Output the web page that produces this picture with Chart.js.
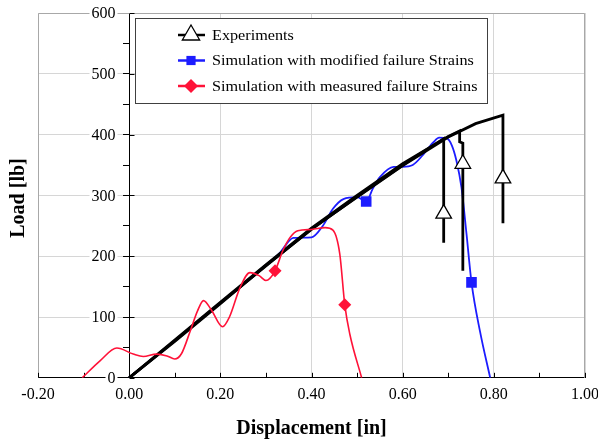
<!DOCTYPE html>
<html>
<head>
<meta charset="utf-8">
<title>Load vs displacement</title>
<script src="https://cdn.jsdelivr.net/npm/chart.js@4.4.1/dist/chart.umd.min.js"></script>
<style>
  html, body { margin: 0; padding: 0; background: #fff; }
  #wrap { width: 598px; height: 441px; }
</style>
</head>
<body>
<div id="wrap"><canvas id="loadChart" width="598" height="441"></canvas></div>
<script>
// EXPERIMENTS (three specimens, marker = arrow triangle on the failure drop)
var exp1X = [0, 0.10, 0.20, 0.30, 0.40, 0.50, 0.60, 0.69, 0.69, 0.69];
var exp1Y = [0, 60, 122, 185, 244, 298, 350, 393, 270, 222];
var exp1Marks = [8];

var exp2X = [0, 0.10, 0.20, 0.30, 0.40, 0.50, 0.60, 0.70, 0.725, 0.725, 0.732, 0.732, 0.732];
var exp2Y = [0, 62, 124, 186, 246, 300, 352, 397, 406, 388, 386, 352, 176];
var exp2Marks = [11];

var exp3X = [0, 0.10, 0.20, 0.30, 0.40, 0.50, 0.60, 0.70, 0.76, 0.82, 0.82, 0.82];
var exp3Y = [0, 61, 123, 184, 245, 297, 349, 396, 418, 432, 328, 254];
var exp3Marks = [10];

// SIMULATION - modified failure strains
var modX = [0, 0.10, 0.20, 0.30, 0.33, 0.36, 0.40, 0.425, 0.447, 0.47, 0.50, 0.52, 0.535, 0.55, 0.58, 0.60, 0.622, 0.645, 0.667, 0.68, 0.696, 0.708, 0.718, 0.729, 0.74, 0.751, 0.77, 0.792];
var modY = [0, 61, 123, 185, 205, 230, 231, 250, 278, 294, 297, 290, 312, 330, 347, 347, 350, 367, 387, 395, 394, 382, 357, 313, 237, 157, 75, 0];
var modMarks = [11, 25];

// SIMULATION - measured failure strains
var measX = [-0.103, -0.064, -0.027, 0.009, 0.031, 0.06, 0.083, 0.10, 0.115, 0.134, 0.15, 0.163, 0.18, 0.205, 0.22, 0.243, 0.265, 0.285, 0.30, 0.32, 0.337, 0.353, 0.37, 0.40, 0.43, 0.447, 0.462, 0.473, 0.484, 0.51];
var measY = [0, 28, 49, 39, 35, 39, 36, 31, 40, 77, 110, 127, 112, 84, 100, 148, 173, 168, 160, 176, 209, 231, 242, 244, 247, 243, 204, 120, 72, 0];
var measMarks = [19, 27];

function pts(xs, ys) {
    return xs.map(function (x, i) { return { x: x, y: ys[i] }; });
}
function markAt(idx, r) {
    return function (c) { return idx.indexOf(c.dataIndex) >= 0 ? r : 0; };
}
function expSet(xs, ys, marks) {
    return {
        label: 'Experiments',
        data: pts(xs, ys),
        showLine: true,
        borderColor: '#000',
        borderWidth: 2.8,
        pointStyle: 'triangle',
        pointRadius: markAt(marks, 9),
        pointHoverRadius: markAt(marks, 9),
        pointBorderWidth: 1.3,
        pointBorderColor: '#000',
        pointBackgroundColor: '#fff',
        legendRadius: 10,
        tension: 0,
        order: 1
    };
}

Chart.defaults.font.family = '"Liberation Serif", "Times New Roman", serif';
Chart.defaults.color = '#000';

// frame, small ticks, y labels + title and the boxed legend
var decor = {
    id: 'decor',
    beforeDatasetsDraw: function (chart) {
        var a = chart.chartArea, ctx = chart.ctx, xs = chart.scales.x, ys = chart.scales.y;
        ctx.save();
        ctx.strokeStyle = '#a8a8a8';
        ctx.lineWidth = 1;
        ctx.beginPath();
        ctx.moveTo(a.left + 0.5, a.bottom);
        ctx.lineTo(a.left + 0.5, a.top + 0.5);
        ctx.lineTo(a.right - 0.5, a.top + 0.5);
        ctx.lineTo(a.right - 0.5, a.bottom);
        ctx.stroke();

        ctx.strokeStyle = '#000';
        ctx.beginPath();
        xs.ticks.forEach(function (t) {
            var px = Math.round(xs.getPixelForValue(t.value)) + 0.5;
            ctx.moveTo(px, a.bottom);
            ctx.lineTo(px, a.bottom - 5);
        });
        var x0 = Math.round(xs.getPixelForValue(0)) + 0.5;
        ys.ticks.forEach(function (t) {
            if (t.value % 100 === 0) {
                var py = Math.round(ys.getPixelForValue(t.value)) + 0.5;
                ctx.moveTo(x0, py);
                ctx.lineTo(x0 + 5, py);
            }
        });
        ctx.stroke();

        // y tick labels sit left of the axis at x = 0
        ctx.font = '16px "Liberation Serif"';
        ctx.textAlign = 'right';
        ctx.textBaseline = 'middle';
        ys.ticks.forEach(function (t) {
            if (t.value % 100 === 0) {
                var py = ys.getPixelForValue(t.value);
                var txt = String(t.value);
                var w = ctx.measureText(txt).width;
                ctx.fillStyle = '#fff';
                ctx.fillRect(x0 - 16 - w, py - 7, w + 4, 14);
                ctx.fillStyle = '#000';
                ctx.fillText(txt, x0 - 14, py + 1);
            }
        });
        ctx.restore();
    },
    afterDraw: function (chart) {
        var a = chart.chartArea, ctx = chart.ctx;
        ctx.save();

        // y axis title
        ctx.translate(19, 198);
        ctx.rotate(-Math.PI / 2);
        ctx.font = 'bold 20px "Liberation Serif"';
        ctx.fillStyle = '#000';
        ctx.textAlign = 'center';
        ctx.textBaseline = 'middle';
        ctx.fillText('Load [lb]', 0, 0);
        ctx.setTransform(1, 0, 0, 1, 0, 0);

        // legend
        var items = [];
        chart.data.datasets.forEach(function (d) {
            if (!items.some(function (it) { return it.label === d.label; })) items.push(d);
        });
        var bx = a.left + 97, by = a.top + 5, bw = 352, bh = 85;
        ctx.fillStyle = '#fff';
        ctx.fillRect(bx, by, bw, bh);
        ctx.strokeStyle = '#404040';
        ctx.lineWidth = 1;
        ctx.strokeRect(bx + 0.5, by + 0.5, bw, bh);
        items.forEach(function (d, i) {
            var y = by + 17 + i * 25.5;
            ctx.strokeStyle = d.borderColor;
            ctx.lineWidth = 2.5;
            ctx.beginPath();
            ctx.moveTo(bx + 43, y);
            ctx.lineTo(bx + 70, y);
            ctx.stroke();
            ctx.fillStyle = d.pointBackgroundColor;
            ctx.strokeStyle = d.pointBorderColor;
            ctx.lineWidth = d.pointBorderWidth;
            Chart.helpers.drawPoint(ctx, {
                pointStyle: d.pointStyle, radius: d.legendRadius, rotation: 0, borderWidth: d.pointBorderWidth
            }, bx + 56, y);
            ctx.save();
            ctx.translate(bx + 77, y + 1);
            ctx.scale(1.08, 1);
            ctx.fillStyle = '#000';
            ctx.font = '15px "Liberation Serif"';
            ctx.textAlign = 'left';
            ctx.textBaseline = 'middle';
            ctx.fillText(d.label, 0, 0);
            ctx.restore();
        });
        ctx.restore();
    }
};

var ctx = document.getElementById('loadChart').getContext('2d');
var chart = new Chart(ctx, {
    type: 'scatter',
    data: {
        datasets: [
            expSet(exp1X, exp1Y, exp1Marks),
            expSet(exp2X, exp2Y, exp2Marks),
            expSet(exp3X, exp3Y, exp3Marks),
            {
                label: 'Simulation with modified failure Strains',
                data: pts(modX, modY),
                showLine: true,
                borderColor: '#1c1cff',
                borderWidth: 1.8,
                cubicInterpolationMode: 'monotone',
                pointStyle: 'rect',
                pointRadius: markAt(modMarks, 7.5),
                pointHoverRadius: markAt(modMarks, 7.5),
                pointBorderWidth: 0,
                pointBorderColor: '#1c1cff',
                pointBackgroundColor: '#1c1cff',
                legendRadius: 6.5,
                order: 2
            },
            {
                label: 'Simulation with measured failure Strains',
                data: pts(measX, measY),
                showLine: true,
                borderColor: '#ff1238',
                borderWidth: 1.6,
                cubicInterpolationMode: 'monotone',
                pointStyle: 'rectRot',
                pointRadius: markAt(measMarks, 6.5),
                pointHoverRadius: markAt(measMarks, 6.5),
                pointBorderWidth: 0,
                pointBorderColor: '#ff1238',
                pointBackgroundColor: '#ff1238',
                legendRadius: 7,
                order: 0
            }
        ]
    },
    options: {
        responsive: false,
        animation: false,
        layout: { padding: { left: 38, right: 0, top: 13, bottom: 0 } },
        plugins: {
            legend: { display: false },
            tooltip: { enabled: false }
        },
        scales: {
            x: {
                type: 'linear',
                position: 'bottom',
                min: -0.2,
                max: 1.0,
                afterFit: function (scale) { scale.paddingRight = 13; },
                ticks: {
                    stepSize: 0.1,
                    autoSkip: false,
                    maxRotation: 0,
                    padding: 7,
                    font: { size: 16 },
                    color: '#000',
                    callback: function (v) {
                        if (Math.abs(v) < 1e-9) return '0.00';
                        return Math.round(v * 10) % 2 === 0 ? v.toFixed(2) : '';
                    }
                },
                grid: {
                    drawTicks: false,
                    color: function (c) {
                        return c.tick && Math.round(c.tick.value * 10) % 2 === 0 ? '#d6d6d6' : 'transparent';
                    }
                },
                border: { color: '#000', width: 1 },
                title: {
                    display: true,
                    text: 'Displacement [in]',
                    font: { size: 20, weight: 'bold' },
                    color: '#000',
                    padding: { top: 6, bottom: 0 }
                }
            },
            y: {
                type: 'linear',
                position: { x: 0 },
                min: 0,
                max: 600,
                ticks: {
                    stepSize: 50,
                    display: false
                },
                grid: {
                    tickLength: 6,
                    tickColor: '#000',
                    color: function (c) {
                        return c.tick && c.tick.value % 100 === 0 ? '#d6d6d6' : 'transparent';
                    }
                },
                border: { color: '#000', width: 1 }
            }
        }
    },
    plugins: [decor]
});
</script>
</body>
</html>
